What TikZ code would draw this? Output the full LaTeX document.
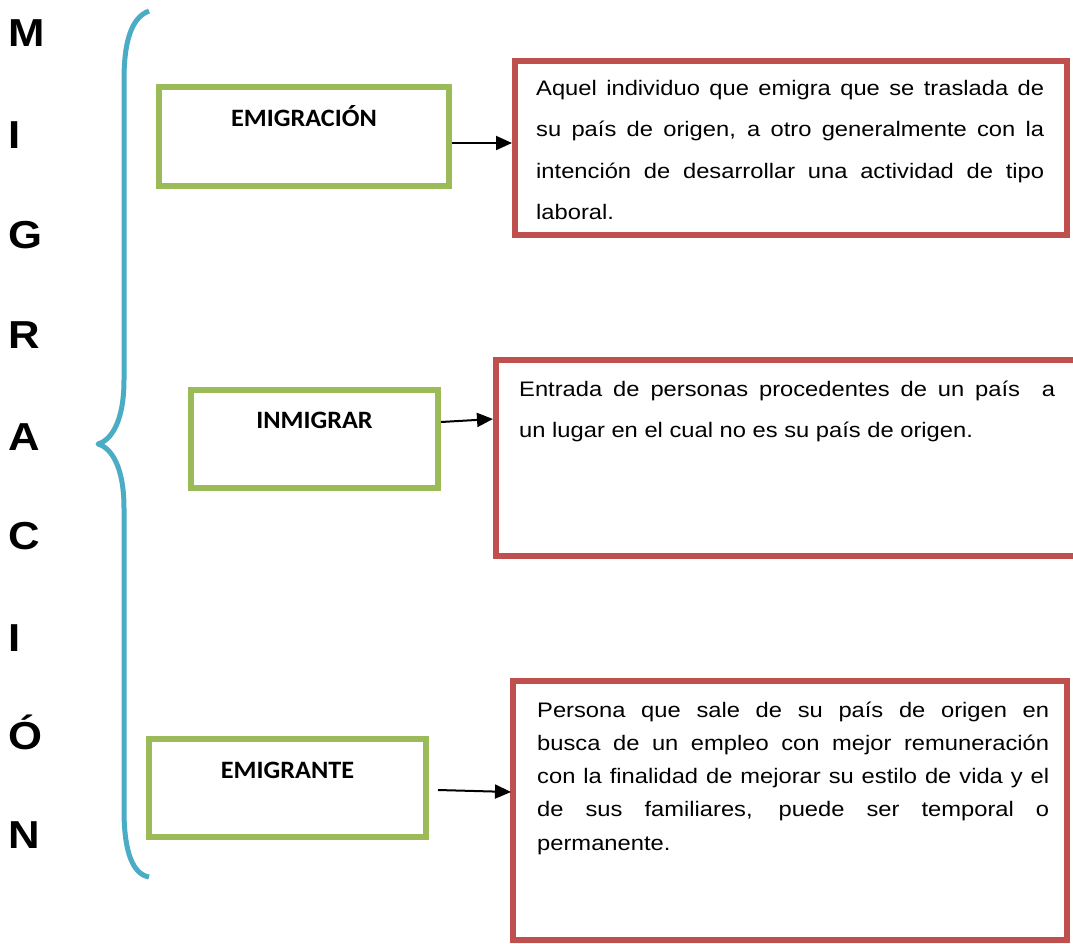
\documentclass[tikz,border=0pt]{standalone}
\usepackage{fontspec}
\setmainfont{Liberation Sans}
\newfontfamily\rfont[FakeStretch=1.13]{Liberation Sans}
\newfontfamily\lfont[FakeStretch=1.12]{Liberation Sans}
\newfontfamily\cfont[FakeStretch=1.05]{Carlito}
\usetikzlibrary{arrows.meta,calc}
\definecolor{boxgreen}{HTML}{9BBB59}
\definecolor{boxred}{HTML}{C0504D}
\definecolor{bracecol}{HTML}{4BACC6}
\begin{document}
\begin{tikzpicture}[x=1pt,y=-1pt,
  greenbox/.style={draw=boxgreen, line width=6pt, rectangle, inner sep=0pt, align=center,
     font=\cfont\bfseries\fontsize{25}{30}\selectfont},
  redbox/.style={draw=boxred, line width=6pt, rectangle, inner sep=0pt},
  rtext/.style={inner sep=0pt, align=left, anchor=base west},
  letter/.style={inner sep=0pt, anchor=base west, font=\lfont\bfseries\fontsize{39}{40}\selectfont},
  arr/.style={draw=black, line width=2pt, -{Triangle[length=16pt,width=14pt]}},
  bracestyle/.style={draw=bracecol, line width=5pt, line join=round}]
\useasboundingbox (0,0) rectangle (1073,943);
\fill[white] (0,0) rectangle (1073,943);

% vertical word
\node[letter] (l1) at (8,46) {M};
\node[letter] (l2) at (8,148) {I};
\node[letter] (l3) at (8,248) {G};
\node[letter] (l4) at (8,348) {R};
\node[letter] (l5) at (8,450) {A};
\node[letter] (l6) at (8,549) {C};
\node[letter] (l7) at (8,651) {I};
\node[letter] (l8) at (8,749) {Ó};
\node[letter] (l9) at (8,848) {N};

% brace
\draw[bracestyle] (149,11) .. controls (130,18) and (124,45) .. (124,80)
  -- (124,380) .. controls (124,420) and (112,440) .. (98,444)
  .. controls (112,448) and (124,468) .. (124,508)
  -- (124,810) .. controls (124,850) and (132,874) .. (149,877);

% green boxes
\node[greenbox, text width=290pt, text height=39pt, text depth=60pt] (g1) at (304,136.5) {EMIGRACIÓN};
\node[greenbox, text width=247pt, text height=38pt, text depth=60pt] (g2) at (314.5,439) {INMIGRAR};
\node[greenbox, text width=277pt, text height=39pt, text depth=59pt] (g3) at (287.5,788) {EMIGRANTE};

% red boxes
\node[redbox, minimum width=552pt, minimum height=174pt] (r1) at (791,148) {};
\node[redbox, minimum width=594pt, minimum height=196pt] (r2) at (793,458) {};
\node[redbox, minimum width=554pt, minimum height=259pt] (r3) at (790,810.5) {};

% texts (anchored at the baseline of their last line)
\node[rtext, font=\rfont\fontsize{21}{41.5}\selectfont] (t1) at (536,219.5)
 {\makebox[508pt][s]{Aquel individuo que emigra que se traslada de}\\
  \makebox[508pt][s]{su país de origen, a otro generalmente con la}\\
  \makebox[508pt][s]{intención de desarrollar una actividad de tipo}\\
  laboral.};
\node[rtext, font=\rfont\fontsize{21}{41.5}\selectfont] (t2) at (519,437.5)
 {\makebox[536pt][s]{Entrada de personas procedentes de un país\ \ a}\\
  un lugar en el cual no es su país de origen.};
\node[rtext, font=\rfont\fontsize{21}{33.2}\selectfont] (t3) at (537,850)
 {\makebox[512pt][s]{Persona que sale de su país de origen en}\\
  \makebox[512pt][s]{busca de un empleo con mejor remuneración}\\
  \makebox[512pt][s]{con la finalidad de mejorar su estilo de vida y el}\\
  \makebox[512pt][s]{de sus familiares, puede ser temporal o}\\
  permanente.};

% connectors
\draw[arr] ($(g1.east)+(0,6.5)$) -- ($(r1.west)+(0,-5)$);
\draw[arr] ($(g2.east)+(0,-17)$) -- ($(r2.west)+(0,-39)$);
\draw[arr] ($(g3.east)+(9,2)$) -- ($(r3.west)+(1,-18.5)$);
\end{tikzpicture}
\end{document}
